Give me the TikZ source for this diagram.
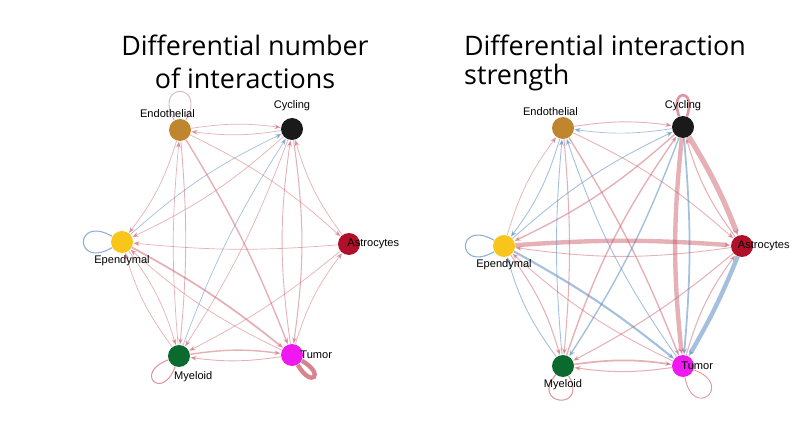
\documentclass[tikz,border=0pt]{standalone}
\usepackage{fontspec}
\setmainfont{Open Sans}
\newfontfamily\labfont{Liberation Sans}
\usetikzlibrary{arrows.meta, positioning}
\definecolor{cEndo}{HTML}{C0862F}
\definecolor{cCyc}{HTML}{1A1A1A}
\definecolor{cAstro}{HTML}{B0102A}
\definecolor{cEpen}{HTML}{F8C51A}
\definecolor{cMye}{HTML}{0B6B2E}
\definecolor{cTum}{HTML}{F018F0}
\definecolor{up}{HTML}{C8505F}
\definecolor{down}{HTML}{5A8CC0}
\tikzset{
  cell/.style={circle, minimum size=0.44cm, inner sep=0pt},
  lab/.style={font=\fontsize{6.3}{7}\selectfont\labfont, inner sep=1pt},
  title/.style={font=\fontsize{15.3}{17}\selectfont},
  rr/.style={up, opacity=0.45, -{Stealth[length=1.3mm]}},
  bb/.style={down, opacity=0.55, -{Stealth[length=1.3mm]}}
}
\begin{document}
\begin{tikzpicture}[x=0.2mm, y=-0.2mm]
    \useasboundingbox (0,0) rectangle (799,428);
    % Titles
    \node[title] (t1) at (245,45) {Differential number};
    \node[title] (t2) at (245,78) {of interactions};
    \node[title] (t3) at (605,45) {Differential interaction};
    \node[title, anchor=west] (t4) at (458,78) {strength};

    % Left network
    \node[cell, fill=cEndo] (LEndo) at (180,130) {};
    \node[cell, fill=cCyc] (LCyc) at (292,129) {};
    \node[cell, fill=cAstro] (LAstro) at (349,244) {};
    \node[cell, fill=cEpen] (LEpen) at (122,242) {};
    \node[cell, fill=cMye] (LMye) at (179,356) {};
    \node[cell, fill=cTum] (LTum) at (292,355) {};

    % edges
    \foreach \s/\t/\b/\w/\c in {LEndo/LCyc/8/0.4/rr, LCyc/LEndo/8/0.4/rr,
        LEndo/LEpen/10/0.4/rr, LEndo/LMye/5/0.5/rr, LEndo/LTum/5/0.8/rr,
        LEndo/LAstro/8/0.4/rr, LCyc/LEpen/8/0.4/rr, LCyc/LMye/6/0.4/rr,
        LCyc/LTum/8/0.6/rr, LTum/LCyc/8/0.5/rr, LAstro/LCyc/10/0.4/rr,
        LAstro/LEpen/5/0.4/rr, LAstro/LMye/6/0.4/rr, LTum/LAstro/10/0.4/rr,
        LEpen/LMye/10/0.4/rr, LEpen/LTum/5/1.0/rr, LMye/LTum/8/0.8/rr,
        LTum/LMye/8/0.5/rr, LMye/LEpen/10/0.4/rr, LTum/LEpen/8/0.4/rr,
        LMye/LEndo/5/0.4/rr, LEpen/LCyc/8/0.4/bb, LMye/LCyc/6/0.4/bb}
      {\draw[\c, line width=\w pt] (\s) to[bend left=\b] (\t);}
    % loops
    \draw[up, opacity=0.7, line width=2.5pt] (LTum) to[out=-30, in=-60, looseness=12] (LTum);
    \draw[down, opacity=0.7, line width=0.6pt] (LEpen) to[out=150, in=210, looseness=10] (LEpen);
    \draw[up, opacity=0.6, line width=0.6pt] (LMye) to[out=200, in=250, looseness=10] (LMye);
    \draw[up!50!gray, opacity=0.5, line width=0.5pt] (LEndo) to[out=60, in=120, looseness=10] (LEndo);

    \node[lab, above left=0.5mm and -5mm of LEndo] (lLEndo) {Endothelial};
    \node[lab, above=1mm of LCyc] (lLCyc) {Cycling};
    \node[lab, right=-3mm of LAstro] (lLAstro) {Astrocytes};
    \node[lab, below=0mm of LEpen] (lLEpen) {Ependymal};
    \node[lab, below right=1mm and -3mm of LMye] (lLMye) {Myeloid};
    \node[lab, right=-1mm of LTum] (lLTum) {Tumor};

    % Right network
    \node[cell, fill=cEndo] (REndo) at (563,128) {};
    \node[cell, fill=cCyc] (RCyc) at (683,127) {};
    \node[cell, fill=cAstro] (RAstro) at (742,246) {};
    \node[cell, fill=cEpen] (REpen) at (504,246) {};
    \node[cell, fill=cMye] (RMye) at (563,366) {};
    \node[cell, fill=cTum] (RTum) at (683,366) {};

    \foreach \s/\t/\b/\w/\c in {REndo/RCyc/8/0.5/rr, RCyc/REndo/8/0.4/bb,
        REndo/REpen/10/0.5/bb, REpen/REndo/10/0.4/rr, REndo/RMye/5/0.6/rr,
        REndo/RTum/5/0.8/rr, REndo/RAstro/8/0.5/rr, RCyc/REpen/8/0.8/rr,
        REpen/RCyc/8/0.5/bb, RCyc/RMye/6/0.8/bb, RCyc/RTum/5/1.0/bb,
        RCyc/RTum/-6/2.5/rr, RCyc/RAstro/5/3.0/rr, RAstro/RCyc/10/0.6/rr,
        REpen/RAstro/4/2.5/rr, RAstro/REpen/8/0.5/rr, RAstro/RMye/6/0.6/rr,
        RTum/RAstro/10/0.6/rr, RAstro/RTum/4/2.5/bb, REpen/RMye/10/0.6/rr,
        RMye/REpen/10/0.5/bb, REpen/RTum/5/1.2/bb, RMye/RTum/8/1.0/rr,
        RTum/RMye/8/0.6/rr, RTum/REpen/8/0.5/rr, RMye/REndo/5/0.5/bb,
        RMye/RCyc/8/0.8/rr, RTum/REndo/8/0.5/bb}
      {\draw[\c, line width=\w pt] (\s) to[bend left=\b] (\t);}
    \draw[up, opacity=0.6, line width=1.5pt] (RCyc) to[out=70, in=110, looseness=10] (RCyc);
    \draw[down, opacity=0.7, line width=0.6pt] (REpen) to[out=150, in=210, looseness=10] (REpen);
    \draw[up, opacity=0.6, line width=0.6pt] (RMye) to[out=230, in=300, looseness=8] (RMye);
    \draw[up, opacity=0.6, line width=0.5pt] (RTum) to[out=-20, in=-80, looseness=10] (RTum);

    \node[lab, above left=0.5mm and -5mm of REndo] (lREndo) {Endothelial};
    \node[lab, above=0.5mm of RCyc] (lRCyc) {Cycling};
    \node[lab, right=-3.5mm of RAstro] (lRAstro) {Astrocytes};
    \node[lab, below=0mm of REpen] (lREpen) {Ependymal};
    \node[lab, below=0mm of RMye] (lRMye) {Myeloid};
    \node[lab, right=-3mm of RTum] (lRTum) {Tumor};
\end{tikzpicture}
\end{document}
